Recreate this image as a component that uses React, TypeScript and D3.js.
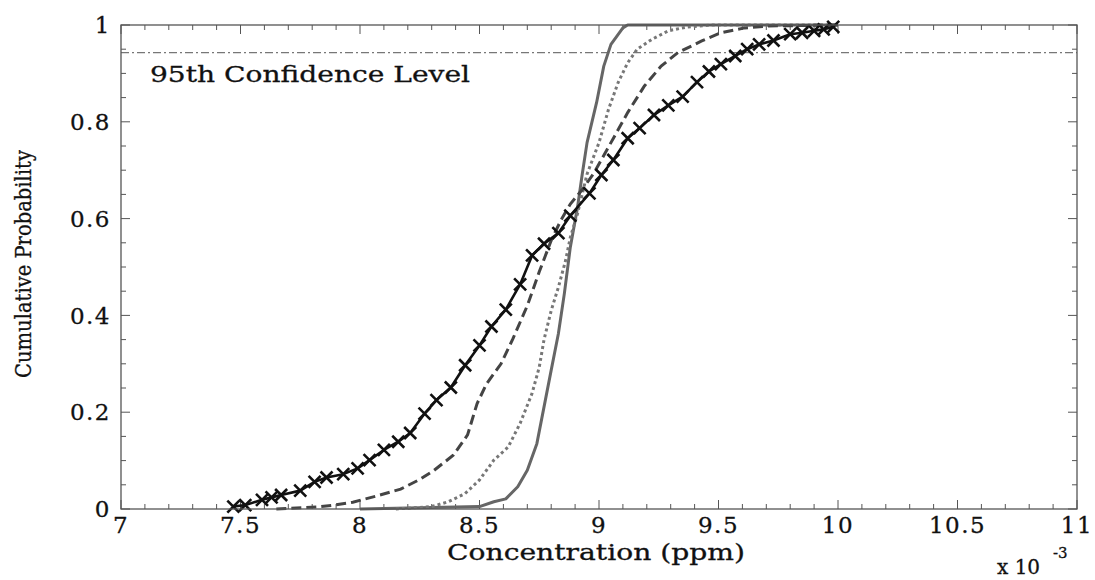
import * as d3 from 'd3';

// empirical CDF (black, x markers)
const obsX = [7.47, 7.52, 7.59, 7.63, 7.67, 7.75, 7.81, 7.86, 7.93, 7.99, 8.04, 8.10, 8.16, 8.21, 8.27, 8.32, 8.38, 8.44, 8.50, 8.55, 8.61, 8.67, 8.72, 8.77, 8.83, 8.88, 8.96, 9.01, 9.06, 9.12, 9.17, 9.23, 9.29, 9.35, 9.41, 9.46, 9.51, 9.57, 9.62, 9.67, 9.73, 9.80, 9.85, 9.90, 9.94, 9.98];
const obsY = [0.005, 0.008, 0.019, 0.024, 0.029, 0.038, 0.056, 0.065, 0.072, 0.084, 0.101, 0.122, 0.139, 0.157, 0.197, 0.225, 0.251, 0.297, 0.338, 0.377, 0.412, 0.464, 0.524, 0.548, 0.570, 0.606, 0.652, 0.690, 0.721, 0.766, 0.787, 0.814, 0.834, 0.852, 0.882, 0.904, 0.919, 0.936, 0.950, 0.960, 0.968, 0.981, 0.984, 0.988, 0.991, 0.996];

// dashed curve
const dashX = [7.65, 7.82, 7.89, 7.97, 8.07, 8.17, 8.25, 8.31, 8.39, 8.45, 8.49, 8.53, 8.59, 8.64, 8.70, 8.75, 8.80, 8.84, 8.88, 8.93, 8.98, 9.05, 9.12, 9.19, 9.26, 9.33, 9.43, 9.51, 9.61, 9.71, 10.0];
const dashY = [0, 0.004, 0.008, 0.014, 0.027, 0.041, 0.061, 0.080, 0.111, 0.153, 0.218, 0.259, 0.300, 0.352, 0.42, 0.49, 0.555, 0.596, 0.630, 0.660, 0.695, 0.757, 0.819, 0.874, 0.915, 0.943, 0.967, 0.984, 0.994, 0.998, 1];

// dotted curve
const dotX = [8.15, 8.30, 8.37, 8.44, 8.50, 8.56, 8.62, 8.67, 8.72, 8.75, 8.77, 8.80, 8.83, 8.86, 8.88, 8.91, 8.93, 8.95, 9.00, 9.04, 9.08, 9.12, 9.16, 9.22, 9.29, 9.37, 9.47, 10.0];
const dotY = [0, 0.005, 0.015, 0.032, 0.060, 0.101, 0.128, 0.177, 0.239, 0.293, 0.35, 0.41, 0.458, 0.513, 0.561, 0.610, 0.651, 0.692, 0.757, 0.826, 0.881, 0.922, 0.950, 0.970, 0.988, 0.996, 1, 1];

// gray solid curve
const solidX = [8.0, 8.50, 8.56, 8.61, 8.66, 8.70, 8.74, 8.77, 8.80, 8.83, 8.855, 8.88, 8.91, 8.93, 8.95, 8.99, 9.02, 9.05, 9.10, 9.12, 10.0];
const solidY = [0, 0.005, 0.015, 0.021, 0.046, 0.080, 0.135, 0.211, 0.287, 0.362, 0.445, 0.541, 0.623, 0.692, 0.757, 0.840, 0.915, 0.960, 0.994, 1, 1];

const confLevel = 0.943;
const xTickLabels = ['7', '7.5', '8', '8.5', '9', '9.5', '10', '10.5', '11'];
const yTickLabels = ['0', '0.2', '0.4', '0.6', '0.8', '1'];

const W = 1095;
const H = 580;
const margin = { left: 121, right: 1077, top: 25, bottom: 509 };
const FONT = '"DejaVu Serif", serif';

const zip = (xs: number[], ys: number[]) => xs.map((x, i) => [x, ys[i]] as [number, number]);

export default function App() {
  const x = d3.scaleLinear().domain([7, 11]).range([margin.left, margin.right]);
  const y = d3.scaleLinear().domain([0, 1]).range([margin.bottom, margin.top]);
  const line = d3.line<[number, number]>().x(d => x(d[0])).y(d => y(d[1]));

  const xMinor = d3.range(70, 111).map(v => v / 10);
  const yMinor = d3.range(0, 21).map(v => v / 20);
  const axisColor = '#555';

  return (
    <svg width={W} height={H} style={{ position: 'absolute', left: 0, top: 0, background: '#fff' }}>
      <rect x={0} y={0} width={W} height={H} fill="#fff" />

      {/* ticks, pointing inward on all four sides */}
      <g stroke={axisColor} strokeWidth={1}>
        {xMinor.map((v, i) => {
          const len = i % 5 === 0 ? 9 : 5;
          return (
            <g key={'xt' + i}>
              <line x1={x(v)} x2={x(v)} y1={margin.bottom} y2={margin.bottom - len} />
              <line x1={x(v)} x2={x(v)} y1={margin.top} y2={margin.top + len} />
            </g>
          );
        })}
        {yMinor.map((v, i) => {
          const len = i % 4 === 0 ? 9 : 5;
          return (
            <g key={'yt' + i}>
              <line x1={margin.left} x2={margin.left + len} y1={y(v)} y2={y(v)} />
              <line x1={margin.right} x2={margin.right - len} y1={y(v)} y2={y(v)} />
            </g>
          );
        })}
      </g>

      {/* 95th confidence line */}
      <line x1={margin.left} x2={margin.right} y1={y(confLevel)} y2={y(confLevel)}
        stroke="#777" strokeWidth={1.3} strokeDasharray="8,3,2,3" />
      <text x={150} y={82} fontFamily={FONT} fontSize={23} textLength={320} lengthAdjust="spacingAndGlyphs"
        fill="#111" stroke="#111" strokeWidth={0.3}>
        95th Confidence Level
      </text>

      {/* curves */}
      <path d={line(zip(solidX, solidY)) || ''} fill="none" stroke="#666" strokeWidth={3} strokeLinejoin="round" />
      <path d={line(zip(dotX, dotY)) || ''} fill="none" stroke="#777" strokeWidth={3} strokeDasharray="3,3" />
      <path d={line(zip(dashX, dashY)) || ''} fill="none" stroke="#444" strokeWidth={3} strokeDasharray="10,5" />
      <path d={line(zip(obsX, obsY)) || ''} fill="none" stroke="#111" strokeWidth={2.6} strokeLinejoin="round" />
      <g stroke="#111" strokeWidth={2.6}>
        {obsX.map((v, i) => {
          const cx = x(v);
          const cy = y(obsY[i]);
          const s = 6;
          return <path key={'m' + i} d={`M${cx - s},${cy - s}L${cx + s},${cy + s}M${cx - s},${cy + s}L${cx + s},${cy - s}`} />;
        })}
      </g>

      {/* frame */}
      <rect x={margin.left} y={margin.top} width={margin.right - margin.left} height={margin.bottom - margin.top}
        fill="none" stroke={axisColor} strokeWidth={1.3} />

      {/* tick labels */}
      <g fontFamily={FONT} fontSize={23} fill="#111" stroke="#111" strokeWidth={0.3}>
        {xTickLabels.map(t => (
          <text key={'xl' + t} x={x(+t)} y={533} textAnchor="middle" letterSpacing={1.5}>{t}</text>
        ))}
        {yTickLabels.map(t => (
          <text key={'yl' + t} x={111} y={y(+t)} dy="0.36em" textAnchor="end" letterSpacing={1.5}>{t}</text>
        ))}
      </g>

      {/* axis labels */}
      <g fill="#111" stroke="#111" strokeWidth={0.3}>
        <text x={596} y={560} textAnchor="middle" fontFamily={FONT} fontSize={22} textLength={298}
          lengthAdjust="spacingAndGlyphs">Concentration (ppm)</text>
        <text transform="translate(31,264) rotate(-90)" textAnchor="middle" fontFamily={FONT} fontSize={22}
          textLength={228} lengthAdjust="spacingAndGlyphs">Cumulative Probability</text>
        <text x={997} y={574} fontFamily={FONT} fontSize={20}>x 10</text>
        <text x={1053} y={558} fontFamily={FONT} fontSize={15}>-3</text>
      </g>
    </svg>
  );
}
